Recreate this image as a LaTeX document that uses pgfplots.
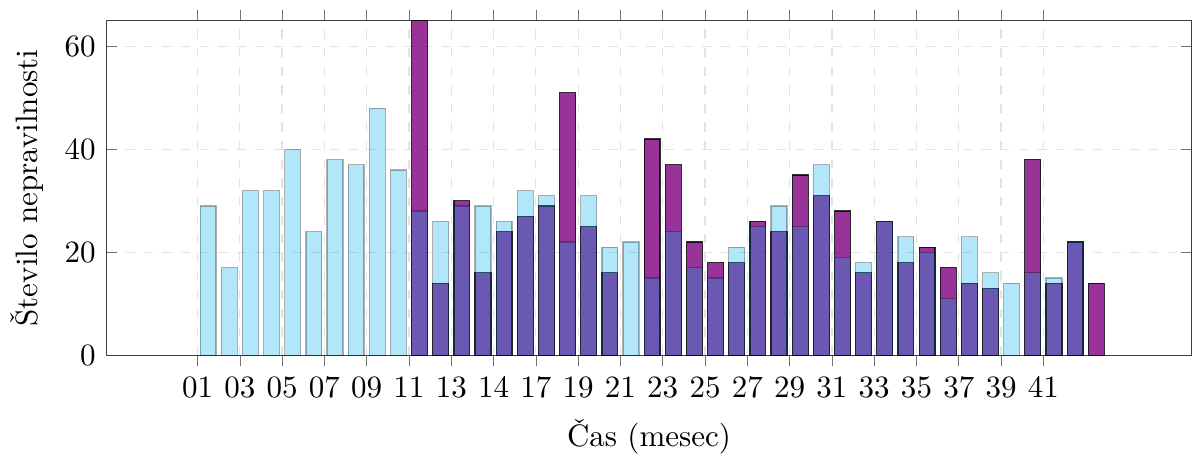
\documentclass[border=0pt]{standalone}
\usepackage{fontspec}
\usepackage{pgfplots}
\pgfplotsset{compat=1.18}
\definecolor{mycyan}{RGB}{0,174,239}
\definecolor{myviolet}{RGB}{128,0,128}
\begin{document}
\begin{tikzpicture}
\begin{axis}[
  scale only axis,
  width=349.7pt, height=107.8pt,
  xmin=-3.8, xmax=47.5,
  ymin=0, ymax=65,
  ytick={0,20,40,60},
  xtick={0.5,2.5,...,40.5},
  xticklabels={01,03,05,07,09,11,13,14,17,19,21,23,25,27,29,31,33,35,37,39,41},
  xtick align=outside,
  ytick align=inside,
  major tick length=3.5pt,
  tick style={black!55},
  axis line style={black!75},
  xmajorgrids, ymajorgrids,
  grid style={dashed, black!11},
  ybar, bar width=0.75,
  xlabel={Čas (mesec)},
  ylabel={Število nepravilnosti},
]
\addplot[bar shift=0pt, fill=myviolet, draw=black, opacity=0.8] coordinates {
(11,65) (12,14) (13,30) (14,16) (15,24) (16,27) (17,29) (18,51) (19,25) (20,16)
(22,42) (23,37) (24,22) (25,18) (26,18) (27,26) (28,24) (29,35) (30,31) (31,28)
(32,16) (33,26) (34,18) (35,21) (36,17) (37,14) (38,13) (40,38) (41,14) (42,22) (43,14)
};
\addplot[bar shift=0pt, fill=mycyan, draw=black, opacity=0.3] coordinates {
(1,29) (2,17) (3,32) (4,32) (5,40) (6,24) (7,38) (8,37) (9,48) (10,36)
(11,28) (12,26) (13,29) (14,29) (15,26) (16,32) (17,31) (18,22) (19,31) (20,21)
(21,22) (22,15) (23,24) (24,17) (25,15) (26,21) (27,25) (28,29) (29,25) (30,37)
(31,19) (32,18) (33,26) (34,23) (35,20) (36,11) (37,23) (38,16) (39,14) (40,16)
(41,15) (42,22)
};
\end{axis}
\path ([yshift=6.7pt]current axis.north);
\end{tikzpicture}
\end{document}
